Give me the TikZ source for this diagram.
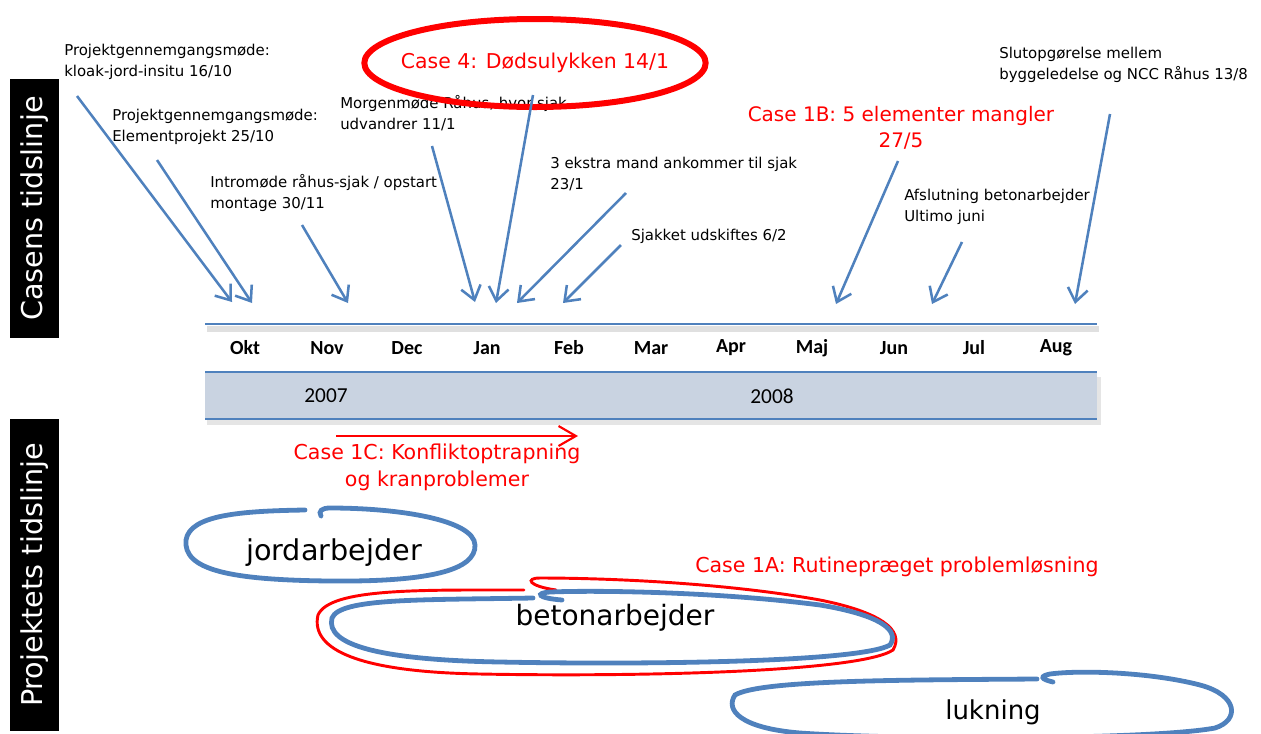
\documentclass[tikz,border=0pt]{standalone}
\usepackage{fontspec}
\setmainfont{DejaVu Sans}
\newfontfamily\calib{Carlito}
\usetikzlibrary{arrows.meta,shapes.geometric}
\definecolor{myblue}{HTML}{4F81BD}
\definecolor{myred}{HTML}{FF0000}
\definecolor{bandc}{HTML}{C9D3E1}
\tikzset{
  lbl/.style={anchor=north west, inner sep=0pt, align=left, font=\fontsize{11.2}{15.75}\selectfont},
  redlbl/.style={inner sep=0pt, align=center, text=myred, font=\fontsize{15}{19.5}\selectfont},
  arr/.style={draw=myblue, line width=1.9pt, -{Straight Barb[length=10pt,width=15pt]}},
  tl/.style={draw=myblue, line width=2pt},
  shad/.style={draw=black!12, line width=5pt},
  month/.style={inner sep=0pt, font=\calib\bfseries\fontsize{15}{17}\selectfont},
  year/.style={inner sep=0pt, font=\calib\fontsize{16}{18}\selectfont},
  sidebox/.style={fill=black, text=white, rotate=90, inner sep=0pt, font=\fontsize{21.5}{24}\selectfont},
  loopb/.style={draw=myblue, line width=3.6pt, line cap=round},
  loopr/.style={draw=myred, line width=2.2pt, line cap=round},
  worklbl/.style={inner sep=0pt, font=\fontsize{20.5}{23}\selectfont}
}
\begin{document}
\begin{tikzpicture}[x=0.75pt,y=-0.75pt]
\useasboundingbox (0,0) rectangle (1261,733);

% side boxes
\node[sidebox, minimum width=194.25pt, minimum height=36.75pt] (sb1) at (34.5,208.5) {Casens tidslinje};
\node[sidebox, minimum width=234pt, minimum height=36.75pt] (sb2) at (34.5,575) {Projektets tidslinje};

% timeline band
\fill[black!10] (207,377) rectangle (1101,425);
\fill[bandc] (205,372) rectangle (1097,419);
\draw[shad] (207,329) -- (1099,329);
\coordinate (l1a) at (205,324); \coordinate (l1b) at (1097,324);
\coordinate (l2a) at (205,372); \coordinate (l2b) at (1097,372);
\coordinate (l3a) at (205,419); \coordinate (l3b) at (1097,419);
\draw[tl] (l1a) -- (l1b);
\draw[tl] (l2a) -- (l2b);
\draw[tl] (l3a) -- (l3b);

\node[month] (m1) at (245,348) {Okt};
\node[month] (m2) at (327,348) {Nov};
\node[month] (m3) at (407,348) {Dec};
\node[month] (m4) at (487,348) {Jan};
\node[month] (m5) at (569,348) {Feb};
\node[month] (m6) at (651,348) {Mar};
\node[month] (m7) at (731,348) {Apr};
\node[month] (m8) at (812,348) {Maj};
\node[month] (m9) at (894,348) {Jun};
\node[month] (m10) at (974,348) {Jul};
\node[month] (m11) at (1056,348) {Aug};
\node[year] (y1) at (326,396) {2007};
\node[year] (y2) at (772,396) {2008};

% event labels
\node[lbl] (k1) at (64,44) {Projektgennemgangsmøde:\\kloak-jord-insitu 16/10};
\node[lbl] (k2) at (112,109) {Projektgennemgangsmøde:\\Elementprojekt 25/10};
\node[lbl] (k3) at (210,174) {Intromøde råhus-sjak / opstart\\montage 30/11};
\node[lbl] (k4) at (340,95) {Morgenmøde Råhus, hvor sjak\\udvandrer 11/1};
\node[lbl] (k5) at (550,157) {3 ekstra mand ankommer til sjak\\23/1};
\node[lbl] (k6) at (631,229) {Sjakket udskiftes 6/2};
\node[lbl] (k7) at (904,189) {Afslutning betonarbejder\\Ultimo juni};
\node[lbl] (k8) at (999,47) {Slutopgørelse mellem\\byggeledelse og NCC Råhus 13/8};

% case 4 ellipse
\node[text=myred, inner sep=0pt, font=\fontsize{15.3}{18}\selectfont] (c4) at (535,63) {Case 4: Dødsulykken 14/1};
\draw[draw=myred, line width=4.5pt] (c4.center) ellipse [x radius=128pt, y radius=33pt];

\node[redlbl] (c1b) at (901,128) {Case 1B: 5 elementer mangler\\27/5};

% arrows
\coordinate (a1s) at (77,96);   \coordinate (a1e) at (232,302);
\coordinate (a2s) at (157,160); \coordinate (a2e) at (252,303);
\coordinate (a3s) at (302,225); \coordinate (a3e) at (348,303);
\coordinate (a4s) at (432,146); \coordinate (a4e) at (475,302);
\coordinate (a5s) at (533,95);  \coordinate (a5e) at (496,303);
\coordinate (a6s) at (626,193); \coordinate (a6e) at (517,303);
\coordinate (a7s) at (621,245); \coordinate (a7e) at (563,303);
\coordinate (a8s) at (898,161); \coordinate (a8e) at (836,304);
\coordinate (a9s) at (962,242); \coordinate (a9e) at (932,304);
\coordinate (a10s) at (1110,114); \coordinate (a10e) at (1075,304);
\foreach \i in {1,...,10} { \draw[arr] (a\i s) -- (a\i e); }

% case 1C
\coordinate (r1s) at (336,436); \coordinate (r1e) at (578,436);
\draw[draw=myred, line width=1.6pt, -{Straight Barb[length=13pt,width=15pt]}] (r1s) -- (r1e);
\node[redlbl, font=\fontsize{15.4}{20.25}\selectfont] (c1c) at (437,467) {Case 1C: Konfliktoptrapning\\og kranproblemer};

% work loops
\draw[loopb] (305,510) .. controls (240,511) and (190,515) .. (186,540)
  .. controls (183,570) and (230,580) .. (330,581)
  .. controls (430,582) and (476,570) .. (475,545)
  .. controls (474,520) and (400,508) .. (330,508)
  .. controls (322,508) and (318,511) .. (321,516);
\node[worklbl, font=\fontsize{21.5}{24}\selectfont] (w1) at (334,553) {jordarbejder};

\draw[loopr] (524,590) .. controls (420,590) and (330,588) .. (318,615)
  .. controls (310,650) and (360,672) .. (480,674)
  .. controls (640,677) and (860,672) .. (893,650)
  .. controls (905,630) and (880,612) .. (820,600)
  .. controls (720,582) and (600,578) .. (540,578)
  .. controls (525,578) and (528,586) .. (556,590);
\draw[loopb] (533,598) .. controls (420,600) and (340,598) .. (332,618)
  .. controls (325,645) and (380,660) .. (500,662)
  .. controls (650,665) and (860,662) .. (890,645)
  .. controls (900,630) and (880,615) .. (820,605)
  .. controls (720,592) and (600,590) .. (550,592)
  .. controls (535,593) and (537,598) .. (562,600);
\node[worklbl, font=\fontsize{21}{24}\selectfont] (w2) at (615,618) {betonarbejder};
\node[redlbl, anchor=west, font=\fontsize{15.4}{18}\selectfont] (c1a) at (695,567) {Case 1A: Rutinepræget problemløsning};

\draw[loopb] (1037,679) .. controls (900,680) and (760,680) .. (735,695)
  .. controls (725,710) and (740,728) .. (800,733)
  .. controls (900,740) and (1150,740) .. (1215,728)
  .. controls (1240,720) and (1238,695) .. (1200,685)
  .. controls (1150,672) and (1080,670) .. (1050,674)
  .. controls (1040,676) and (1040,679) .. (1053,682);
\node[worklbl, font=\fontsize{19.5}{22}\selectfont] (w3) at (993,712) {lukning};
\end{tikzpicture}
\end{document}
